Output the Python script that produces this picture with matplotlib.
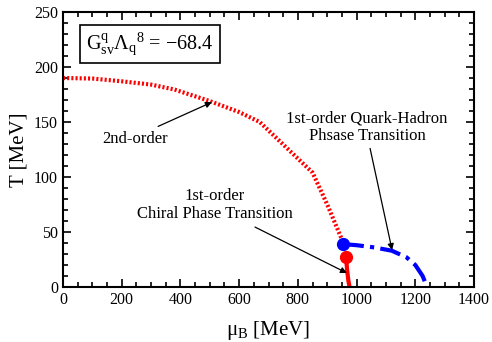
import matplotlib
matplotlib.use("Agg")
import matplotlib.pyplot as plt
from matplotlib.ticker import MultipleLocator

plt.rcParams['font.family'] = ['Liberation Serif', 'DejaVu Serif']
plt.rcParams['mathtext.fontset'] = 'custom'
plt.rcParams['mathtext.rm'] = 'Liberation Serif'
plt.rcParams['mathtext.it'] = 'Liberation Serif:italic'

# 2nd-order crossover (red dotted)
mu_2nd = [0, 100, 200, 300, 380, 500, 600, 670, 760, 850, 900, 955, 964]
T_2nd = [190, 189.5, 187, 184, 179.5, 169, 159, 150, 127, 104, 75, 40, 27]
# 1st-order chiral (red solid)
mu_chiral = [964, 968, 972, 976]
T_chiral = [27, 15, 6, 0]
# 1st-order quark-hadron (blue dash-dot)
mu_qh = [954, 1000, 1060, 1120, 1170, 1200, 1225, 1240]
T_qh = [39, 38, 36, 33, 27, 20, 10, 0]
# critical endpoints
cep_red = (964, 27)
cep_blue = (954, 39)

fig = plt.figure(figsize=(4.92, 3.42), dpi=100)
ax = fig.add_axes([63/492, 55/342, 411/492, 275/342])

ax.plot(mu_2nd, T_2nd, color='red', lw=3, linestyle=(0, (0.5, 0.5)))
ax.plot(mu_chiral, T_chiral, color='red', lw=3, solid_capstyle='butt')
ax.plot(mu_qh, T_qh, color='blue', lw=3, linestyle=(0, (5, 1.5, 1, 1.5)))
ax.plot([cep_red[0]], [cep_red[1]], 'o', color='red', ms=8.5, zorder=5)
ax.plot([cep_blue[0]], [cep_blue[1]], 'o', color='blue', ms=8.5, zorder=5)

ax.set_xlim(0, 1400)
ax.set_ylim(0, 250)
ax.xaxis.set_major_locator(MultipleLocator(200))
ax.xaxis.set_minor_locator(MultipleLocator(50))
ax.yaxis.set_major_locator(MultipleLocator(50))
ax.yaxis.set_minor_locator(MultipleLocator(10))
ax.tick_params(which='both', direction='in', top=True, right=True, labelsize=11.5, width=1.2)
ax.tick_params(which='major', length=6)
ax.tick_params(which='minor', length=3.5)
for s in ax.spines.values():
    s.set_linewidth(1.5)

ax.set_xlabel('μ$_{\\rm B}$ [MeV]', fontsize=15, labelpad=8)
ax.set_ylabel('T [MeV]', fontsize=15, labelpad=4)

ax.text(296, 221, 'G$^{\\rm q}_{\\rm sv}$Λ$_{\\rm q}$$^{\\rm 8}$ = −68.4', fontsize=14.5,
        ha='center', va='center',
        bbox=dict(boxstyle='square,pad=0.3', facecolor='white', edgecolor='black', lw=1.2))

arrowprops = dict(arrowstyle='-|>', color='black', lw=0.9, mutation_scale=9, shrinkA=0, shrinkB=0)
ax.text(245, 134.5, '2nd-order', fontsize=12, ha='center', va='center')
ax.annotate('', xy=(507, 168), xytext=(324, 146), arrowprops=arrowprops)

ax.text(1036, 145.5, '1st-order Quark-Hadron\nPhsase Transition', fontsize=12,
        ha='center', va='center', linespacing=1.15)
ax.annotate('', xy=(1121, 33.6), xytext=(1046, 126), arrowprops=arrowprops)

ax.text(518, 74.5, '1st-order\nChiral Phase Transition', fontsize=12,
        ha='center', va='center', linespacing=1.15)
ax.annotate('', xy=(967, 12.7), xytext=(654, 54.5), arrowprops=arrowprops)

fig.savefig('out.png', dpi=100)
